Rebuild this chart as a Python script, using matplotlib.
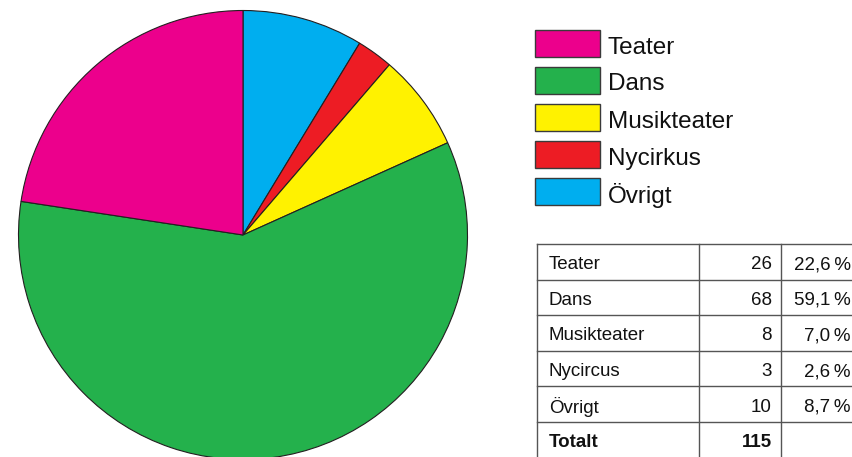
import matplotlib.pyplot as plt
from matplotlib.patches import Rectangle

plt.rcParams['font.family'] = ['Liberation Sans', 'DejaVu Sans']

# Data
categories = ['Teater', 'Dans', 'Musikteater', 'Nycirkus', 'Övrigt']
table_labels = ['Teater', 'Dans', 'Musikteater', 'Nycircus', 'Övrigt']
counts = [26, 68, 8, 3, 10]
colors = ['#EC008C', '#24B14C', '#FFF200', '#ED1C24', '#00AEEF']
total_label = 'Totalt'

total = sum(counts)
percents = [('%.1f' % (100.0 * c / total)).replace('.', ',') + '\u2009%' for c in counts]

W, H = 852, 457
fig = plt.figure(figsize=(W / 100, H / 100), dpi=100)

# Pie (centre at (243, 235) px, radius ~224.5 px)
cx, cy, r = 243, 235, 224.5
axp = fig.add_axes([(cx - r) / W, (H - cy - r) / H, 2 * r / W, 2 * r / H])
axp.pie(counts[::-1], colors=colors[::-1], startangle=90, counterclock=False,
        wedgeprops=dict(edgecolor='#231F20', linewidth=0.8))
axp.set_xlim(-1, 1)
axp.set_ylim(-1, 1)
axp.axis('off')

# Overlay axes in pixel coordinates for legend and table
ax = fig.add_axes([0, 0, 1, 1])
ax.set_xlim(0, W)
ax.set_ylim(H, 0)
ax.axis('off')

# Legend
leg_top, leg_step = 30, 37
for i, (name, col) in enumerate(zip(categories, colors)):
    y0 = leg_top + i * leg_step
    ax.add_patch(Rectangle((535, y0), 65, 27, facecolor=col, edgecolor='#3a3a3a', linewidth=1.0))
    ax.text(608, y0 + 15, name, fontsize=17.5, va='center_baseline', ha='left', color='#111111')

# Table
x_lines = [537, 699, 781]
row_top, row_h = 244, 35.6
n_rows = len(table_labels) + 1
line_kw = dict(color='#555555', linewidth=1.0)
for i in range(n_rows + 1):
    y = row_top + i * row_h
    ax.plot([x_lines[0], W + 5], [y, y], **line_kw)
for x in x_lines:
    ax.plot([x, x], [row_top, H + 5], **line_kw)

for i, (lab, c, p) in enumerate(zip(table_labels, counts, percents)):
    yc = row_top + (i + 0.5) * row_h + 1
    ax.text(549, yc, lab, fontsize=13.5, va='center_baseline', ha='left', color='#111111')
    ax.text(772, yc, str(c), fontsize=13.5, va='center_baseline', ha='right', color='#111111')
    ax.text(851, yc, p, fontsize=13.5, va='center_baseline', ha='right', color='#111111')

yc = row_top + (n_rows - 0.5) * row_h + 1
ax.text(549, yc, total_label, fontsize=13.5, va='center_baseline', ha='left', fontweight='bold', color='#111111')
ax.text(772, yc, str(total), fontsize=13.5, va='center_baseline', ha='right', fontweight='bold', color='#111111')

fig.savefig('out.png', dpi=100)
